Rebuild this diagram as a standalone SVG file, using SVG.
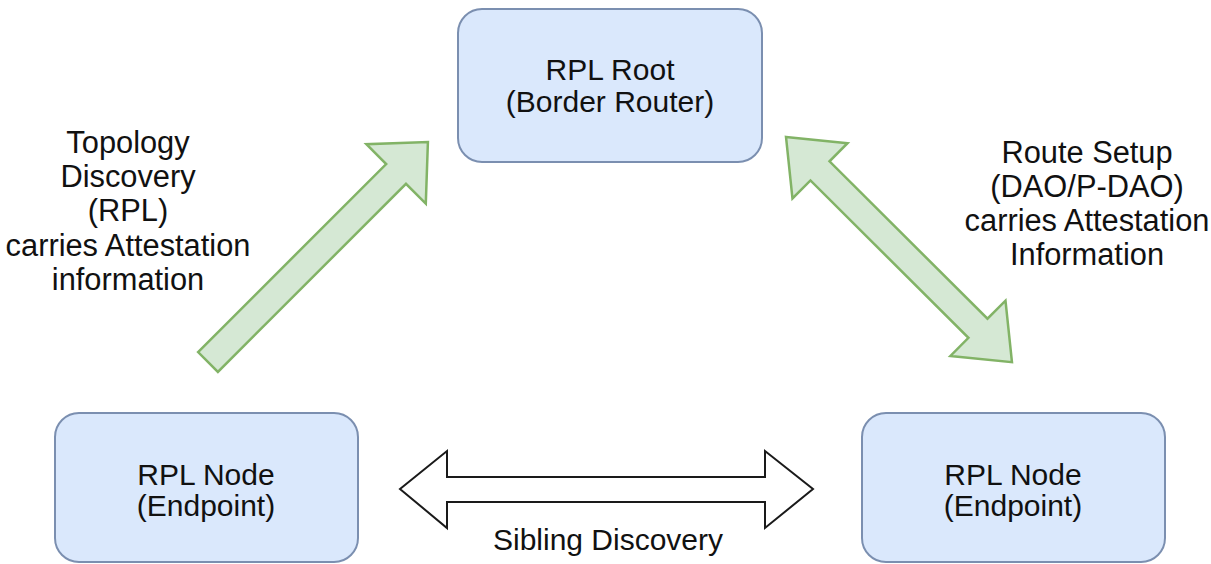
<svg xmlns="http://www.w3.org/2000/svg" width="1211" height="564" viewBox="0 0 1211 564">
  <style>
    .box { fill: #dae8fc; stroke: #7b8fb0; stroke-width: 2; }
    .green { fill: #d5e8d4; stroke: #82b366; stroke-width: 2.5; stroke-linejoin: miter; }
    .plain { fill: #ffffff; stroke: #1a1a1a; stroke-width: 2; }
    text { font-family: "Liberation Sans", Arial, sans-serif; font-size: 30px; fill: #111111; text-anchor: middle; }
    .side { font-size: 30.8px; }
  </style>
  <rect width="1211" height="564" fill="#ffffff"/>

  <!-- connectors -->
  <g id="connectors">
    <!-- topology discovery: node to root -->
    <polygon class="green" transform="translate(208,362) rotate(-45)"
             points="0,-14 266,-14 266,-42 311,0 266,42 266,14 0,14"/>
    <!-- route setup: root to node (both ways) -->
    <polygon class="green" transform="translate(786,137) rotate(44.9)"
             points="0,0 48,-39 48,-13.5 271,-13.5 271,-39 319,0 271,39 271,13.5 48,13.5 48,39"/>
    <!-- sibling discovery -->
    <polygon class="plain"
             points="400,489 447,451 447,477 765,477 765,451 813,489 765,528 765,502 447,502 447,528"/>
  </g>

  <g id="root">
    <rect class="box" x="458" y="9" width="304" height="153" rx="24" ry="24"/>
    <text x="610" y="80">RPL Root</text>
    <text x="610" y="112">(Border Router)</text>
  </g>

  <g id="node-left">
    <rect class="box" x="55" y="413" width="303" height="149" rx="24" ry="24"/>
    <text x="206" y="485">RPL Node</text>
    <text x="206" y="516">(Endpoint)</text>
  </g>

  <g id="node-right">
    <rect class="box" x="862" y="413" width="303" height="149" rx="24" ry="24"/>
    <text x="1013" y="485">RPL Node</text>
    <text x="1013" y="516">(Endpoint)</text>
  </g>

  <g id="label-topology" class="side">
    <text class="side" x="128" y="153">Topology</text>
    <text class="side" x="128" y="187">Discovery</text>
    <text class="side" x="128" y="221">(RPL)</text>
    <text class="side" x="128" y="256">carries Attestation</text>
    <text class="side" x="128" y="290">information</text>
  </g>

  <g id="label-route">
    <text class="side" x="1087" y="163">Route Setup</text>
    <text class="side" x="1087" y="197">(DAO/P-DAO)</text>
    <text class="side" x="1087" y="231">carries Attestation</text>
    <text class="side" x="1087" y="265">Information</text>
  </g>

  <g id="label-sibling">
    <text x="608" y="550">Sibling Discovery</text>
  </g>
</svg>
